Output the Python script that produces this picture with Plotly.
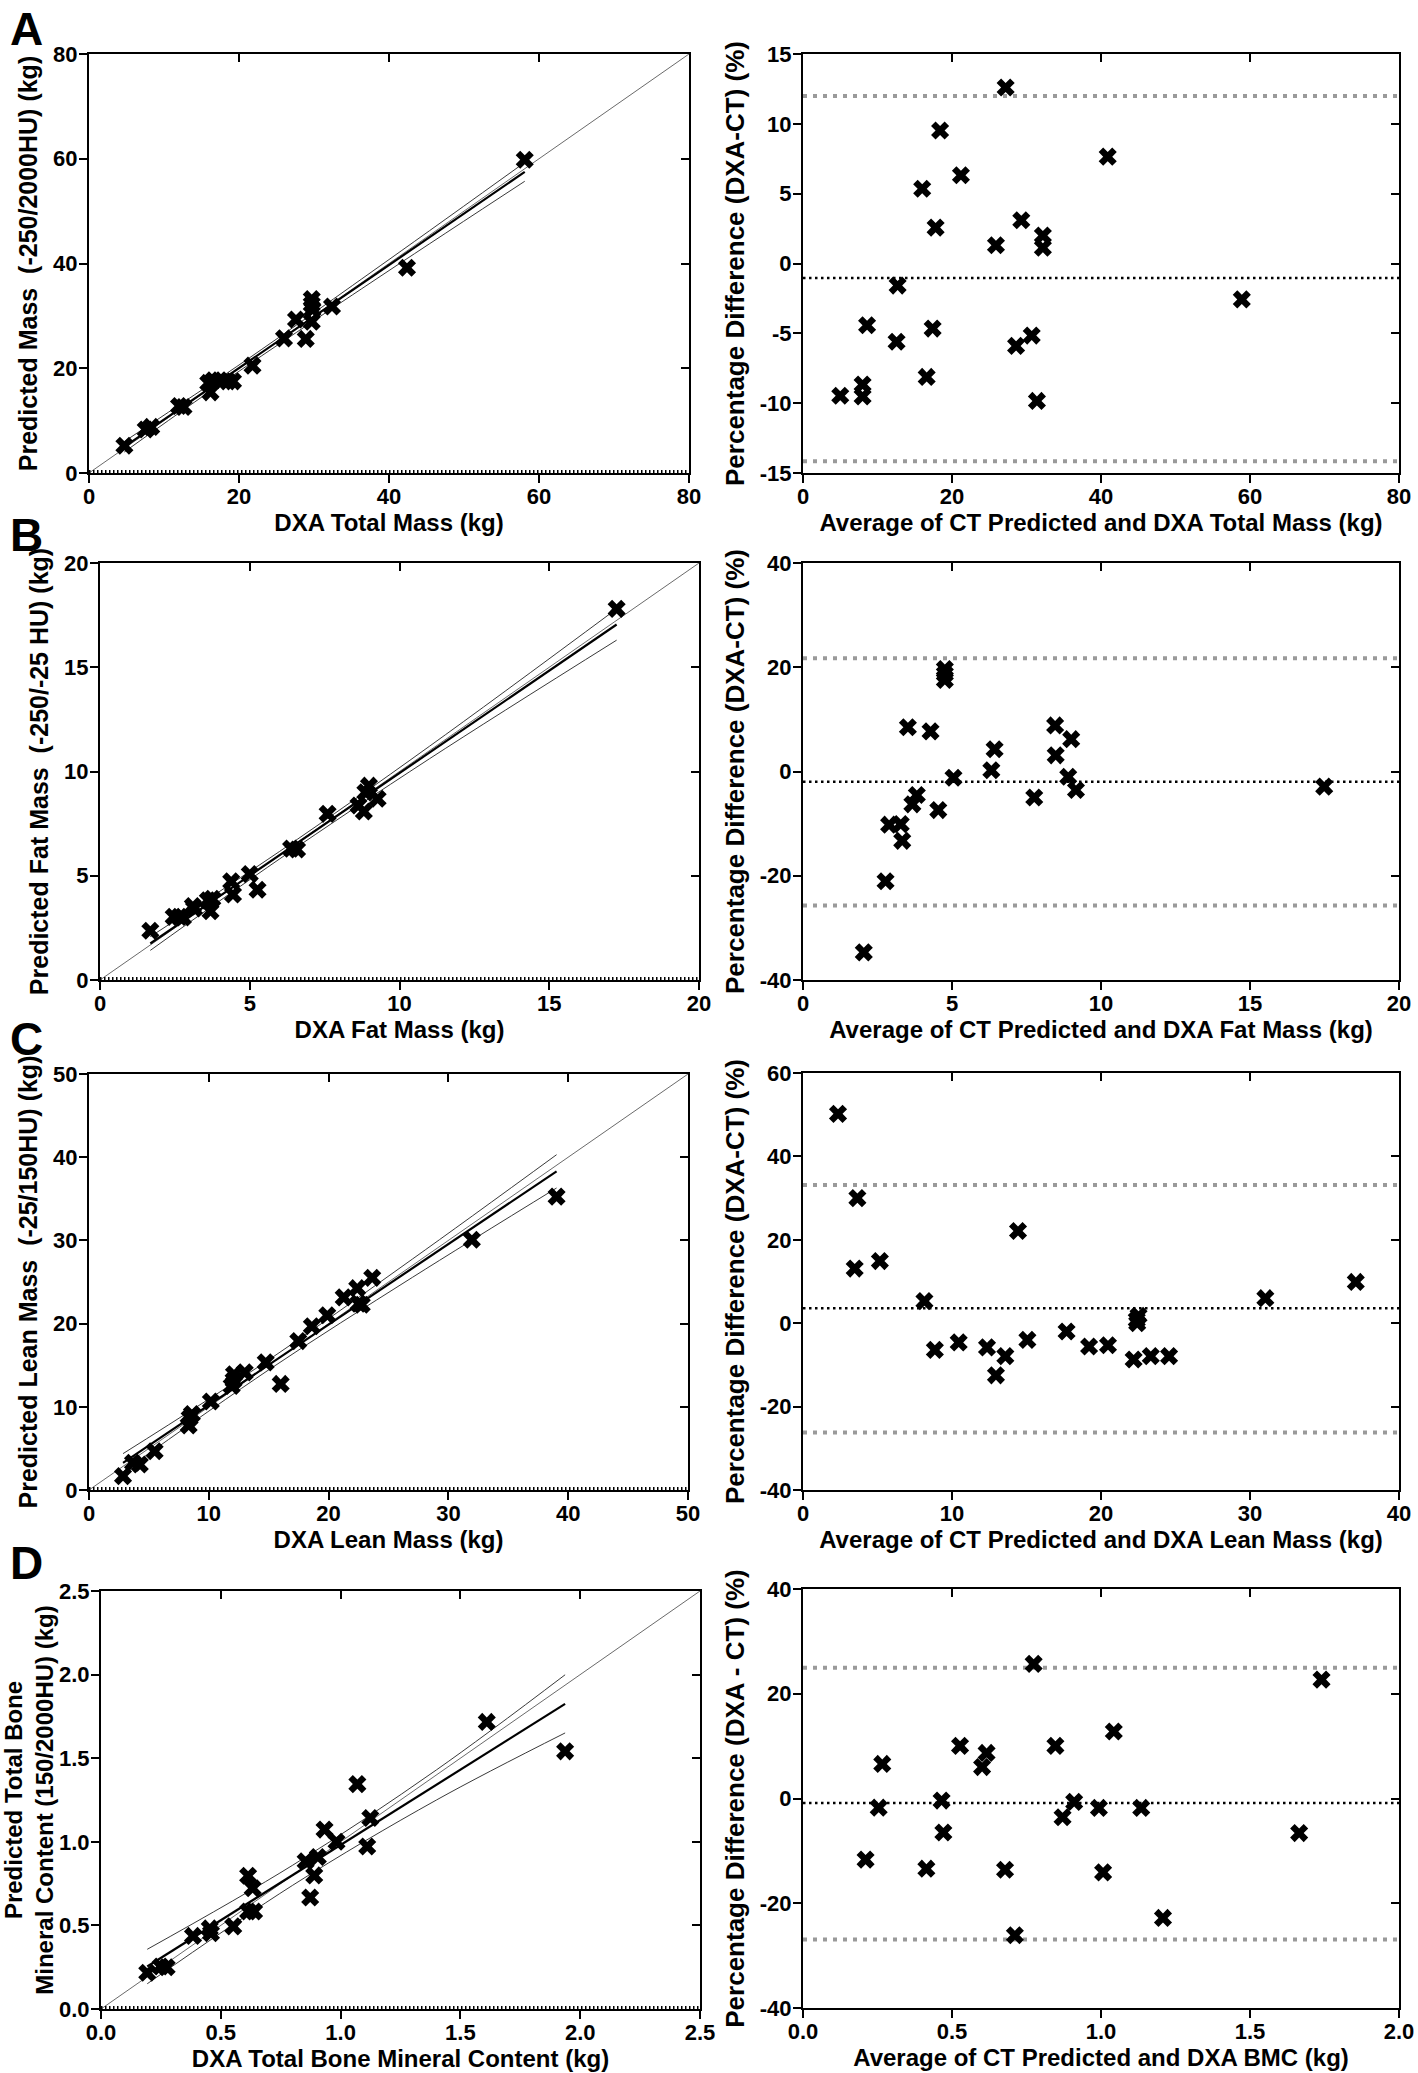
import plotly.graph_objects as go

# ---------------- Panel A : total mass ----------------
a_dxa = [4.72, 7.56, 8.3, 12.0, 12.6, 15.9, 16.2, 16.6, 17.4, 18.5, 19.2, 21.8, 26.0, 27.6, 28.9, 29.7, 29.7, 29.8, 29.7, 32.4, 42.4, 58.1]
a_ct = [5.2, 8.3, 8.8, 12.8, 12.6, 17.2, 15.4, 17.7, 17.7, 17.5, 17.5, 20.5, 25.7, 29.3, 25.6, 33.2, 32.2, 31.2, 28.9, 31.8, 39.2, 59.8]
a_fit_x = [4.7, 12, 21, 40, 58.1]
a_fit_y = [5.0, 12.2, 21.0, 39.7, 57.5]
a_ci_lo = [4.0, 11.45, 20.4, 38.65, 55.7]
a_ci_hi = [6.0, 12.95, 21.6, 40.75, 59.3]
a_avg = [5.0, 8.0, 8.0, 8.6, 12.56, 12.7, 16.0, 16.6, 17.4, 17.8, 18.4, 21.2, 25.9, 27.2, 28.6, 29.3, 30.7, 31.4, 32.2, 32.2, 40.9, 58.9]
a_pct = [-9.47, -8.66, -9.52, -4.42, -5.6, -1.58, 5.35, -8.12, -4.66, 2.57, 9.52, 6.32, 1.31, 12.6, -5.9, 3.1, -5.16, -9.84, 2.0, 1.13, 7.65, -2.57]
a_bias, a_loa_lo, a_loa_hi = -1.04, -14.16, 11.99

# ---------------- Panel B : fat mass ----------------
b_dxa = [1.68, 2.46, 2.65, 2.77, 3.1, 3.14, 3.6, 3.69, 3.75, 4.38, 4.44, 5.0, 5.26, 6.38, 6.58, 7.6, 8.63, 8.81, 8.86, 8.98, 9.27, 17.25]
b_ct = [2.36, 3.03, 3.03, 3.0, 3.55, 3.43, 3.82, 3.3, 3.9, 4.73, 4.1, 5.08, 4.33, 6.3, 6.26, 7.97, 8.37, 8.08, 9.0, 9.32, 8.69, 17.8]
b_fit_x = [1.68, 6.0, 11.0, 17.25]
b_fit_y = [1.75, 5.99, 10.91, 17.05]
b_ci_lo = [1.42, 5.81, 10.61, 16.3]
b_ci_hi = [2.08, 6.17, 11.21, 17.8]
b_avg = [2.04, 2.77, 2.89, 3.28, 3.33, 3.52, 3.67, 3.82, 4.28, 4.54, 4.76, 4.76, 4.76, 5.05, 6.32, 6.43, 7.76, 8.46, 8.48, 8.9, 9.0, 9.16, 17.49]
b_pct = [-34.7, -21.05, -10.2, -10.1, -13.3, 8.5, -6.3, -4.5, 7.7, -7.4, 19.65, 18.7, 17.55, -1.2, 0.25, 4.26, -5.0, 8.84, 3.1, -1.0, 6.2, -3.56, -2.9]
b_bias, b_loa_lo, b_loa_hi = -1.97, -25.7, 21.75

# ---------------- Panel C : lean mass ----------------
c_dxa = [2.84, 3.67, 4.24, 5.48, 8.32, 8.4, 8.59, 10.17, 11.91, 12.07, 12.1, 13.0, 14.75, 16.0, 17.47, 18.6, 19.89, 21.26, 22.39, 22.5, 22.77, 23.64, 31.96, 39.03]
c_ct = [1.67, 3.27, 3.07, 4.66, 7.77, 8.65, 9.12, 10.64, 12.5, 13.2, 13.9, 14.14, 15.34, 12.75, 17.9, 19.68, 21.0, 23.15, 24.26, 22.4, 22.27, 25.5, 30.08, 35.26]
c_fit_x = [2.84, 15, 27, 39.03]
c_fit_y = [3.27, 15.04, 26.66, 38.3]
c_ci_lo = [2.17, 14.44, 25.56, 36.3]
c_ci_hi = [4.37, 15.64, 27.76, 40.3]
c_avg = [2.35, 3.47, 3.65, 5.16, 8.15, 8.85, 10.45, 12.35, 12.95, 13.58, 14.43, 15.06, 17.69, 19.2, 20.47, 22.19, 22.43, 22.4, 22.52, 23.34, 24.57, 31.03, 37.1]
c_pct = [50.2, 13.1, 30.0, 14.9, 5.3, -6.4, -4.6, -5.8, -12.5, -7.9, 22.1, -4.0, -2.0, -5.6, -5.3, -8.7, 0.0, 0.8, 1.8, -7.9, -7.9, 6.0, 9.9]
c_bias, c_loa_lo, c_loa_hi = 3.58, -26.2, 33.15

# ---------------- Panel D : bone mineral content ----------------
d_dxa = [0.193, 0.249, 0.274, 0.384, 0.454, 0.459, 0.552, 0.614, 0.614, 0.633, 0.639, 0.854, 0.873, 0.89, 0.905, 0.933, 0.983, 1.07, 1.111, 1.124, 1.61, 1.937]
d_ct = [0.217, 0.254, 0.25, 0.437, 0.482, 0.453, 0.494, 0.797, 0.583, 0.722, 0.583, 0.884, 0.667, 0.799, 0.909, 1.073, 1.0, 1.345, 0.972, 1.142, 1.717, 1.541]
d_fit_x = [0.193, 0.8, 1.4, 1.937]
d_fit_y = [0.254, 0.80, 1.341, 1.825]
d_ci_lo = [0.151, 0.74, 1.25, 1.651]
d_ci_hi = [0.357, 0.86, 1.43, 1.999]
d_avg = [0.21, 0.254, 0.266, 0.414, 0.465, 0.471, 0.527, 0.601, 0.616, 0.678, 0.711, 0.774, 0.847, 0.871, 0.91, 0.993, 1.007, 1.043, 1.135, 1.208, 1.665, 1.74]
d_pct = [-11.67, -1.75, 6.6, -13.4, -0.4, -6.5, 10.05, 6.0, 8.7, -13.6, -26.1, 25.7, 10.05, -3.57, -0.65, -1.8, -14.1, 12.8, -1.8, -22.8, -6.6, 22.7]
d_bias, d_loa_lo, d_loa_hi = -0.84, -26.9, 24.96

# ---------------- text / ticks ----------------
left_titles = ["Predicted Mass  (-250/2000HU) (kg)", "Predicted Fat Mass  (-250/-25 HU) (kg)",
               "Predicted Lean Mass  (-25/150HU) (kg)", "Predicted Total Bone<br>Mineral Content (150/2000HU) (kg)"]
left_xtitles = ["DXA Total Mass (kg)", "DXA Fat Mass (kg)", "DXA Lean Mass (kg)", "DXA Total Bone Mineral Content (kg)"]
right_titles = ["Percentage Difference (DXA-CT) (%)", "Percentage Difference (DXA-CT) (%)",
                "Percentage Difference (DXA-CT) (%)", "Percentage Difference (DXA - CT) (%)"]
right_xtitles = ["Average of CT Predicted and DXA Total Mass (kg)", "Average of CT Predicted and DXA Fat Mass (kg)",
                 "Average of CT Predicted and DXA Lean Mass (kg)", "Average of CT Predicted and DXA BMC (kg)"]
left_ticks = [[0, 20, 40, 60, 80], [0, 5, 10, 15, 20], [0, 10, 20, 30, 40, 50], [0, 0.5, 1.0, 1.5, 2.0, 2.5]]
right_xticks = [[0, 20, 40, 60, 80], [0, 5, 10, 15, 20], [0, 10, 20, 30, 40], [0, 0.5, 1.0, 1.5, 2.0]]
right_yticks = [[-15, -10, -5, 0, 5, 10, 15], [-40, -20, 0, 20, 40], [-40, -20, 0, 20, 40, 60], [-40, -20, 0, 20, 40]]
letters = ["A", "B", "C", "D"]

W, H = 1418, 2073
boxes = [
    (89, 689, 54, 473), (803, 1399, 54, 473),
    (100, 699, 563, 980), (803, 1399, 563, 980),
    (89, 688, 1074, 1490), (803, 1399, 1073, 1490),
    (101, 700, 1591, 2009), (803, 1399, 1589, 2008),
]
letter_y = [29, 535, 1039, 1563]

FONT = "Liberation Sans, Arial, sans-serif"
tickfont = dict(family=FONT, size=22, color="black")
xtitlefont = dict(family=FONT, size=24, color="black")
ytitle_left = dict(family=FONT, size=25, color="black")
ytitle_d = dict(family=FONT, size=24, color="black")
ytitle_right = dict(family=FONT, size=26, color="black")


def fmt(v, dec):
    return "<b>" + f"{v:.{dec}f}" + "</b>"


scat = [(a_dxa, a_ct, a_fit_x, a_fit_y, a_ci_lo, a_ci_hi),
        (b_dxa, b_ct, b_fit_x, b_fit_y, b_ci_lo, b_ci_hi),
        (c_dxa, c_ct, c_fit_x, c_fit_y, c_ci_lo, c_ci_hi),
        (d_dxa, d_ct, d_fit_x, d_fit_y, d_ci_lo, d_ci_hi)]
ba = [(a_avg, a_pct, a_bias, a_loa_lo, a_loa_hi),
      (b_avg, b_pct, b_bias, b_loa_lo, b_loa_hi),
      (c_avg, c_pct, c_bias, c_loa_lo, c_loa_hi),
      (d_avg, d_pct, d_bias, d_loa_lo, d_loa_hi)]

fig = go.Figure()
layout = dict(width=W, height=H, margin=dict(l=0, r=0, t=0, b=0, autoexpand=False), showlegend=False,
              paper_bgcolor="white", plot_bgcolor="white", annotations=[])

marker = dict(symbol="x", size=16, color="black", line=dict(width=0))


def bold(t):
    return "<b>" + t.replace("<br>", "</b><br><b>") + "</b>"


def axis_common(rng, ticks, dec, title, standoff, tfont, lab_off):
    return dict(range=rng, fixedrange=True, showgrid=False, zeroline=False, automargin=False,
                showline=True, linecolor="black", linewidth=2,
                ticks="outside", ticklen=8, tickwidth=2, tickcolor="black",
                tickmode="array", tickvals=ticks, ticktext=[fmt(t, dec) for t in ticks],
                ticklabelstandoff=lab_off,
                tickfont=tickfont, title=dict(text=bold(title), font=tfont, standoff=standoff))


for row in range(4):
    for col in range(2):
        k = row * 2 + col + 1
        x0, x1, y0, y1 = boxes[k - 1]
        xd = [x0 / W, x1 / W]
        yd = [1 - y1 / H, 1 - y0 / H]
        xa, ya = f"x{k}", f"y{k}"
        xt, yr = f"x{k + 8}", f"y{k + 8}"
        if col == 0:
            dxa, ct, fx, fy, clo, chi = scat[row]
            rmax = left_ticks[row][-1]
            xrng = yrng = [0, rmax]
            dec = 1 if row == 3 else 0
            xax = axis_common(xrng, left_ticks[row], dec, left_xtitles[row], 4, xtitlefont, -5)
            if row < 3:
                yax = axis_common(yrng, left_ticks[row], dec, left_titles[row], 8, ytitle_left, -3)
            else:
                yax = axis_common(yrng, left_ticks[row], dec, left_titles[row], 3, ytitle_d, -3)
            fig.add_trace(go.Scatter(x=[0, rmax], y=[0, rmax], mode="lines", xaxis=xa, yaxis=ya,
                                     line=dict(color="#444444", width=0.8), hoverinfo="skip"))
            fig.add_trace(go.Scatter(x=[0, rmax], y=[0, 0], mode="lines", xaxis=xa, yaxis=ya,
                                     line=dict(color="black", width=6, dash="1.5px,2.5px"), hoverinfo="skip"))
            fig.add_trace(go.Scatter(x=fx, y=chi, mode="lines", xaxis=xa, yaxis=ya,
                                     line=dict(color="#222222", width=0.9), line_shape="spline"))
            fig.add_trace(go.Scatter(x=fx, y=clo, mode="lines", xaxis=xa, yaxis=ya,
                                     line=dict(color="#222222", width=0.9), line_shape="spline"))
            fig.add_trace(go.Scatter(x=fx, y=fy, mode="lines", xaxis=xa, yaxis=ya,
                                     line=dict(color="black", width=2.2)))
            fig.add_trace(go.Scatter(x=dxa, y=ct, mode="markers", xaxis=xa, yaxis=ya, marker=marker))
        else:
            avg, pct, bias, lo, hi = ba[row]
            xt_ = right_xticks[row]
            yt_ = right_yticks[row]
            xrng = [0, xt_[-1]]
            yrng = [yt_[0], yt_[-1]]
            dec = 1 if row == 3 else 0
            xax = axis_common(xrng, xt_, dec, right_xtitles[row], 4, xtitlefont, -5)
            yax = axis_common(yrng, yt_, 0, right_titles[row], 8, ytitle_right, -3)
            for v, c, w, dsh in [(hi, "#9a9a9a", 4, "4px,6px"), (lo, "#9a9a9a", 4, "4px,6px"),
                                 (bias, "black", 2.5, "2.5px,3.5px")]:
                fig.add_trace(go.Scatter(x=xrng, y=[v, v], mode="lines", xaxis=xa, yaxis=ya,
                                         line=dict(color=c, width=w, dash=dsh), hoverinfo="skip"))
            fig.add_trace(go.Scatter(x=avg, y=pct, mode="markers", xaxis=xa, yaxis=ya, marker=marker))
        xax.update(domain=xd, anchor=ya)
        yax.update(domain=yd, anchor=xa)
        layout[f"xaxis{k}"] = xax
        layout[f"yaxis{k}"] = yax
        layout[f"xaxis{k + 8}"] = dict(overlaying=xa, anchor=ya, side="top", range=xrng, fixedrange=True,
                                       showline=True, linecolor="black", linewidth=2, showgrid=False,
                                       zeroline=False, ticks="inside", ticklen=8, tickwidth=2, automargin=False,
                                       tickcolor="black", tickmode="array", tickvals=xax["tickvals"],
                                       showticklabels=False)
        layout[f"yaxis{k + 8}"] = dict(overlaying=ya, anchor=xa, side="right", range=yrng, fixedrange=True,
                                       showline=True, linecolor="black", linewidth=2, showgrid=False,
                                       zeroline=False, ticks="inside", ticklen=8, tickwidth=2, automargin=False,
                                       tickcolor="black", tickmode="array", tickvals=yax["tickvals"],
                                       showticklabels=False)
        fig.add_trace(go.Scatter(x=[None], y=[None], xaxis=xt, yaxis=ya, mode="markers", hoverinfo="skip"))
        fig.add_trace(go.Scatter(x=[None], y=[None], xaxis=xa, yaxis=yr, mode="markers", hoverinfo="skip"))
    layout["annotations"].append(dict(text="<b>" + letters[row] + "</b>", x=8 / W, y=1 - letter_y[row] / H,
                                      xref="paper", yref="paper", xanchor="left", yanchor="middle",
                                      showarrow=False, font=dict(family=FONT, size=46, color="black")))

fig.update_layout(**layout)
fig.write_html("out.html", config={"displayModeBar": False},
               post_script="document.body.style.margin='0px';document.body.style.overflow='hidden';")
